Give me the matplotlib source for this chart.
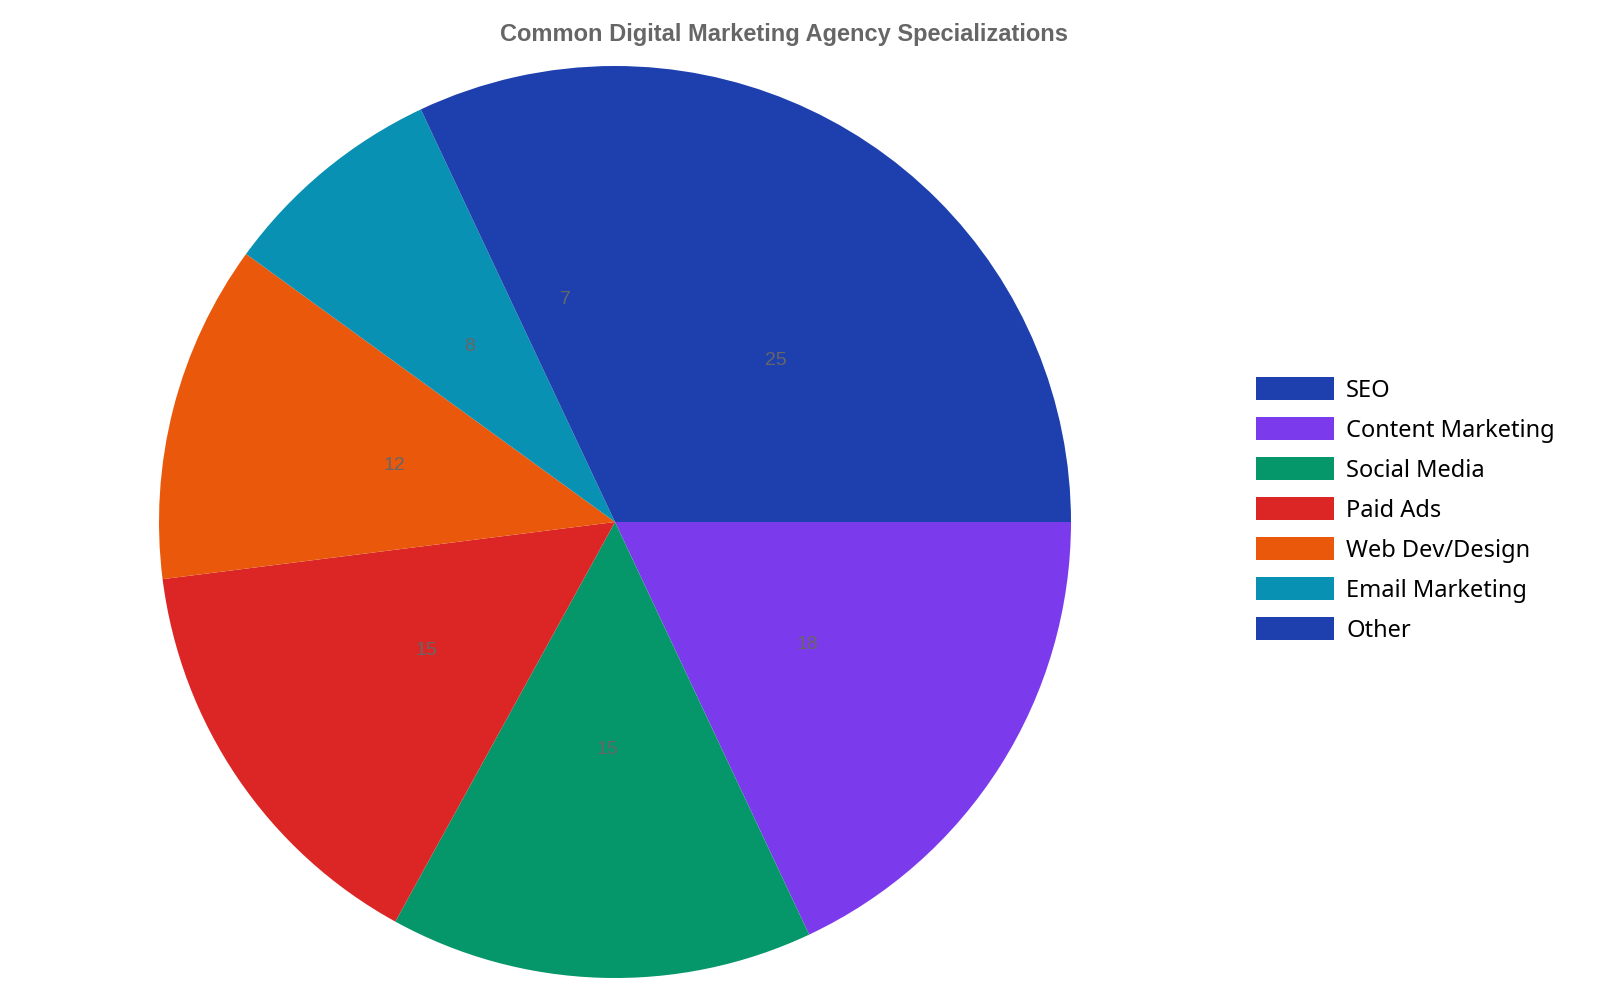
import matplotlib
matplotlib.use("Agg")
import matplotlib.pyplot as plt

labels = ['SEO', 'Content Marketing', 'Social Media', 'Paid Ads', 'Web Dev/Design', 'Email Marketing', 'Other']
values = [25, 18, 15, 15, 12, 8, 7]
colors = ['#1e40af', '#7c3aed', '#059669', '#dc2626', '#ea580c', '#0891b2', '#1e40af']

fig = plt.figure(figsize=(16, 10), dpi=100)
# pie centre ~ (615, 522) px, radius ~456 px
ax = fig.add_axes([(615 - 456) / 1600, (1000 - 522 - 456) / 1000, 912 / 1600, 912 / 1000])
wedges, texts, autotexts = ax.pie(values, colors=colors, startangle=90, counterclock=False,
                                  autopct=lambda p: f'{p * sum(values) / 100:.0f}',
                                  pctdistance=0.5,
                                  textprops={'color': '#666666', 'fontsize': 14, 'family': 'Liberation Sans'})
ax.set_xlim(-1, 1)
ax.set_ylim(-1, 1)
ax.set_aspect('equal')

fig.text(0.49, 0.966, 'Common Digital Marketing Agency Specializations', ha='center', va='center',
         fontsize=17, fontweight='bold', color='#666666', family='Liberation Sans')

fig.legend(wedges, labels, loc='center left', bbox_to_anchor=(0.772, 0.49), frameon=False,
           prop={'family': 'Noto Sans', 'size': 17}, handlelength=3.3, handleheight=1.1,
           labelspacing=0.62, handletextpad=0.5)

fig.savefig('out.png')
